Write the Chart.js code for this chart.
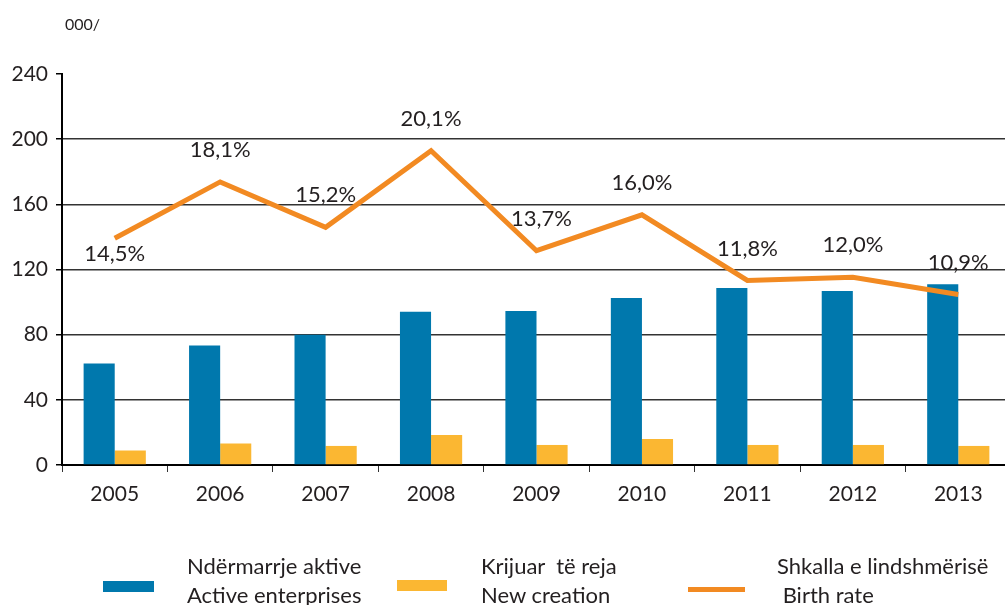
<!DOCTYPE html>
<html>
<head>
<meta charset="utf-8">
<script src="https://cdn.jsdelivr.net/npm/chart.js@4.4.0/dist/chart.umd.min.js"></script>
<style>
  html, body { margin: 0; padding: 0; background: #fff; overflow: hidden; }
  #wrap { position: relative; width: 1005px; height: 605px; overflow: hidden; font-family: Lato, sans-serif; color: #231f20; }
  #grafico { position: absolute; left: 0; top: 0; }
  #unit { position: absolute; left: 65px; top: 14px; font-size: 16px; }
  .sw { position: absolute; }
  .lg { position: absolute; font-size: 22px; line-height: 29px; white-space: pre; }
</style>
</head>
<body>
<div id="wrap">
  <canvas id="grafico" width="1011" height="605"></canvas>
  <div id="unit">000/</div>

  <div class="sw" style="left:103px; top:581px; width:51px; height:11px; background:#0078ad"></div>
  <div class="lg" style="left:187px; top:551px">Ndërmarrje aktive
Active enterprises</div>

  <div class="sw" style="left:397px; top:580px; width:50px; height:11px; background:#fbb732"></div>
  <div class="lg" style="left:481px; top:551px">Krijuar  të reja
New creation</div>

  <div class="sw" style="left:688px; top:587px; width:57px; height:5px; background:#f28a22"></div>
  <div class="lg" style="left:777px; top:551px">Shkalla e lindshmërisë
 Birth rate</div>
</div>

<script>
// Datos del gráfico
var anios = ['2005', '2006', '2007', '2008', '2009', '2010', '2011', '2012', '2013'];
var activas = [62.3, 73.4, 80, 94, 94.6, 102.5, 108.6, 106.8, 111];
var nuevas = [8.9, 13.2, 11.7, 18.4, 12.3, 16, 12.3, 12.3, 11.7];
var tasaNatalidad = [14.5, 18.1, 15.2, 20.1, 13.7, 16.0, 11.8, 12.0, 10.9];
var ticksY = [0, 40, 80, 120, 160, 200, 240];

var colorTexto = '#231f20';

// Etiquetas de porcentaje sobre la línea
var etiquetasLinea = {
    id: 'etiquetasLinea',
    afterDatasetsDraw: function(chart) {
        var meta = chart.getDatasetMeta(2);
        var ctx = chart.ctx;
        ctx.save();
        ctx.font = '22px Lato';
        ctx.fillStyle = colorTexto;
        ctx.textAlign = 'center';
        ctx.textBaseline = 'middle';
        meta.data.forEach(function(p, i) {
            var dy = i === 0 ? 16 : -32;
            var dx = i === 4 ? 5 : 0;
            ctx.fillText(tasaNatalidad[i].toFixed(1).replace('.', ',') + '%', p.x + dx, p.y + dy);
        });
        ctx.restore();
    }
};

var ctxG = document.getElementById('grafico').getContext('2d');
var grafico = new Chart(ctxG, {
    type: 'bar',
    data: {
        labels: anios,
        datasets: [{
            label: 'Active enterprises',
            data: activas,
            backgroundColor: '#0078ad',
            categoryPercentage: 0.59,
            barPercentage: 1.0,
            order: 1
        }, {
            label: 'New creation',
            data: nuevas,
            backgroundColor: '#fbb732',
            categoryPercentage: 0.59,
            barPercentage: 1.0,
            order: 1
        }, {
            type: 'line',
            label: 'Birth rate',
            data: tasaNatalidad,
            yAxisID: 'y2',
            borderColor: '#f28a22',
            borderWidth: 5,
            pointRadius: 0,
            tension: 0,
            fill: false,
            order: 0
        }]
    },
    options: {
        responsive: false,
        animation: false,
        layout: { padding: { top: 74, left: 0, right: 0, bottom: 90 } },
        plugins: {
            legend: { display: false },
            tooltip: { enabled: false }
        },
        scales: {
            x: {
                offset: true,
                grid: {
                    offset: true,
                    drawOnChartArea: false,
                    drawTicks: true,
                    tickLength: 7,
                    color: '#333'
                },
                border: { color: '#000', width: 2 },
                ticks: { color: colorTexto, font: { family: 'Lato', size: 21 }, padding: 10 },
                afterFit: function(s) { s.height = 50; }
            },
            y: {
                min: 0,
                max: 240,
                afterBuildTicks: function(s) { s.ticks = ticksY.map(function(v) { return { value: v }; }); },
                grid: {
                    color: function(c) {
                        var v = c.tick && c.tick.value;
                        return (v === 0 || v === 240) ? 'rgba(0,0,0,0)' : '#333';
                    },
                    tickColor: '#000',
                    tickLength: 6,
                    lineWidth: 1.5
                },
                border: { color: '#000', width: 2 },
                ticks: { color: colorTexto, font: { family: 'Lato', size: 21 }, padding: 8 },
                afterFit: function(s) { s.width = 62; }
            },
            y2: {
                display: false,
                min: 0,
                max: 25
            }
        }
    },
    plugins: [etiquetasLinea]
});
</script>
</body>
</html>
